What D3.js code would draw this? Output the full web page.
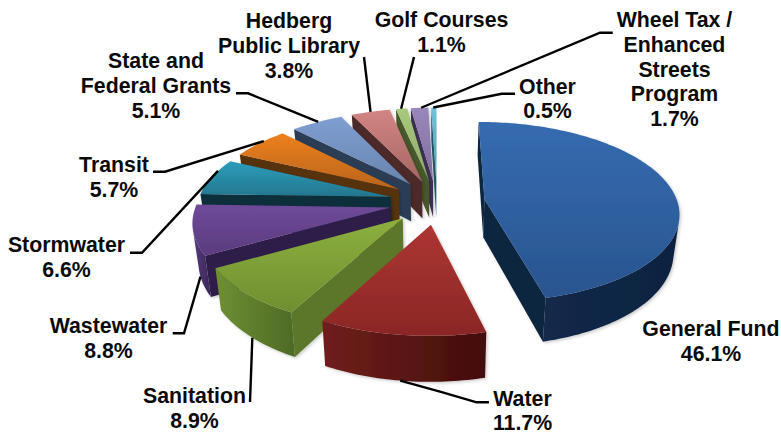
<!DOCTYPE html>
<html>
<head>
<meta charset="utf-8">
<script src="https://cdn.jsdelivr.net/npm/d3@7/dist/d3.min.js"></script>
<style>
  html, body { margin: 0; background: #fff; }
  svg { display: block; }
  text { font-family: "Liberation Sans", Arial, sans-serif; font-weight: 700; font-size: 21.3px; fill: #0a0a0a; text-anchor: middle; }
</style>
</head>
<body>
<svg id="chart" width="781" height="434"></svg>
<script>
// Budget shares, clockwise from twelve o'clock
const categories = ["General Fund", "Water", "Sanitation", "Wastewater", "Stormwater", "Transit",
  "State and Federal Grants", "Hedberg Public Library", "Golf Courses", "Wheel Tax / Enhanced Streets Program", "Other"];
const shares = [46.1, 11.7, 8.9, 8.8, 6.6, 5.7, 5.1, 3.8, 1.1, 1.7, 0.5];

// Face colours per slice: top gradient start/end, radial wall, outer wall start/end
const topStart = ["#356cb0", "#ad3532", "#8cb03e", "#6f4a99", "#2d9dbb", "#ed801e", "#7f9fd2", "#d28583", "#a9c97e", "#9b88bb", "#70c3da"];
const topEnd   = ["#29548f", "#8a2725", "#6f8e30", "#5a3b7e", "#23768e", "#b9641c", "#6884ae", "#a66663", "#8ca868", "#7e6c9c", "#4f9fb6"];
const wallFlat = ["#11253f", "#4a100e", "#5b762b", "#2e1e48", "#0d2f3b", "#56300b", "#2c3c55", "#4d2a29", "#47592c", "#3d3055", "#245c6c"];
const wallA    = ["#12294a", "#701f1c", "#6f8f33", "#54397c", "#14505f", "#8a4c10", "#3a5070", "#6a3a38", "#5f7838", "#54437a", "#2f7a8e"];
const wallB    = ["#10233f", "#420d0b", "#4e6a26", "#3c2758", "#0d2f3b", "#56300b", "#2c3c55", "#4d2a29", "#47592c", "#3d3055", "#245c6c"];

// Label text, one entry per line, with the value appended as the last line
const labelLines = [
  ["General Fund"], ["Water"], ["Sanitation"], ["Wastewater"], ["Stormwater"], ["Transit"],
  ["State and", "Federal Grants"], ["Hedberg", "Public Library"], ["Golf Courses"],
  ["Wheel Tax /", "Enhanced", "Streets", "Program"], ["Other"]
];
const labelX = [711, 522.5, 194.5, 108.5, 66.5, 114, 156, 289, 441.5, 674.5, 547.5];
const labelY = [336, 406, 403, 333, 252, 172, 68, 28, 27, 27, 94];
const lineGap = [24.5, 23.5, 24.5, 25, 25, 25, 25, 25, 25, 24.75, 24];

// Leader line routes: the mark end is computed from the slice, the rest sits by the label
const leaderAngle = [null, 0.521, 0.62, 0.70, 0.80, 0.855, 0.905, 0.948, 0.972, 0.988, 0.997];
const leaderRoute = [
  null,
  [[440, 391.7], [476.7, 402.3], [489, 402.3]],
  [[250, 402]],
  [[184, 333.3], [172.7, 333.3]],
  [[142, 252.7], [130, 252.7]],
  [[165, 171.7], [153, 171.7]],
  [[248, 93.3], [236, 93.3]],
  [[364, 57]],
  [[414, 57]],
  [[600, 32.7], [612.7, 32.7]],
  [[501.7, 93.7], [515, 93.7]]
];

// Perspective camera over the pie plane
const cx = 437, cy = 202;
const radius = 193, explode = 48, tilt = 0.46, camera = 1390, height = 38, baseShrink = 0.975;

const scaleAt = z => 1 / (1 + z / camera);
function project(x, z, bottom) {
  const s = scaleAt(z);
  return bottom
    ? [cx + x * s * baseShrink, cy - tilt * z * s + height * s]
    : [cx + x * s, cy - tilt * z * s];
}

const arcs = d3.pie().sort(null).value(d => d)(shares);
const svg = d3.select("#chart");
const defs = svg.append("defs");
const path = d3.line();

defs.append("filter").attr("id", "soft").attr("x", "-10%").attr("y", "-10%").attr("width", "120%").attr("height", "120%")
  .append("feDropShadow").attr("dx", 1.5).attr("dy", 1.5).attr("stdDeviation", 1.8)
  .attr("flood-color", "#000").attr("flood-opacity", 0.2);

function gradient(id, horizontal, a, b) {
  const g = defs.append("linearGradient").attr("id", id)
    .attr("x1", 0).attr("y1", 0).attr("x2", horizontal ? 1 : 0).attr("y2", horizontal ? 0 : 1);
  g.append("stop").attr("offset", 0).attr("stop-color", a);
  g.append("stop").attr("offset", 1).attr("stop-color", b);
}

// Each slice as a ring of plane coordinates: apex, then the outer arc
function outline(d) {
  const mid = (d.startAngle + d.endAngle) / 2;
  const ox = explode * Math.sin(mid), oz = explode * Math.cos(mid);
  const steps = Math.max(4, Math.ceil((d.endAngle - d.startAngle) / 0.02));
  const rim = d3.range(steps + 1).map(i => {
    const a = d.startAngle + (d.endAngle - d.startAngle) * i / steps;
    return [ox + radius * Math.sin(a), oz + radius * Math.cos(a)];
  });
  return { apex: [ox, oz], rim };
}

// A wall is visible when its screen winding faces the camera
function wallQuad(p, q) {
  return [project(p[0], p[1]), project(q[0], q[1]), project(q[0], q[1], true), project(p[0], p[1], true)];
}
const facing = quad => d3.polygonArea(quad) > 0;

const depthOf = i => d3.mean(outline(arcs[i]).rim, p => p[1]);
const order = d3.range(arcs.length).sort((a, b) => depthOf(b) - depthOf(a));

const pieLayer = svg.append("g");
order.forEach(i => {
  const { apex, rim } = outline(arcs[i]);
  gradient("top" + i, false, topStart[i], topEnd[i]);
  gradient("wall" + i, true, wallA[i], wallB[i]);
  const g = pieLayer.append("g").attr("filter", "url(#soft)");

  // radial walls, wound the same way as the top face ring
  [wallQuad(apex, rim[0]), wallQuad(rim[rim.length - 1], apex)].forEach(q => {
    if (facing(q)) g.append("path").attr("d", path(q) + "Z").attr("fill", wallFlat[i]);
  });

  // outer wall: contiguous visible arc segments joined into one shape
  let run = [];
  const flush = () => {
    if (run.length > 1) {
      const shape = run.map(p => project(p[0], p[1])).concat(run.slice().reverse().map(p => project(p[0], p[1], true)));
      g.append("path").attr("d", path(shape) + "Z").attr("fill", `url(#wall${i})`);
    }
    run = [];
  };
  for (let k = 0; k < rim.length - 1; k++) {
    if (facing(wallQuad(rim[k], rim[k + 1]))) {
      if (!run.length) run.push(rim[k]);
      run.push(rim[k + 1]);
    } else flush();
  }
  flush();

  // top face
  const top = [apex].concat(rim).map(p => project(p[0], p[1]));
  g.append("path").attr("d", path(top) + "Z").attr("fill", `url(#top${i})`);
});

// Leader lines
const leaders = svg.append("g").attr("fill", "none").attr("stroke", "#000").attr("stroke-width", 2.4);
arcs.forEach((d, i) => {
  if (!leaderRoute[i]) return;
  const a = leaderAngle[i] * 2 * Math.PI;
  const mid = (d.startAngle + d.endAngle) / 2;
  const x = explode * Math.sin(mid) + radius * Math.sin(a);
  const z = explode * Math.cos(mid) + radius * Math.cos(a);
  const start = z < 0 ? project(x, z, true) : project(x, z);
  leaders.append("path").attr("d", path([start].concat(leaderRoute[i])));
});

// Labels
const labels = svg.append("g");
arcs.forEach((d, i) => {
  const lines = labelLines[i].concat(d.data.toFixed(1) + "%");
  const t = labels.append("text").attr("x", labelX[i]).attr("y", labelY[i]);
  lines.forEach((line, k) => t.append("tspan").attr("x", labelX[i]).attr("y", labelY[i] + k * lineGap[i]).text(line));
});
</script>
</body>
</html>
